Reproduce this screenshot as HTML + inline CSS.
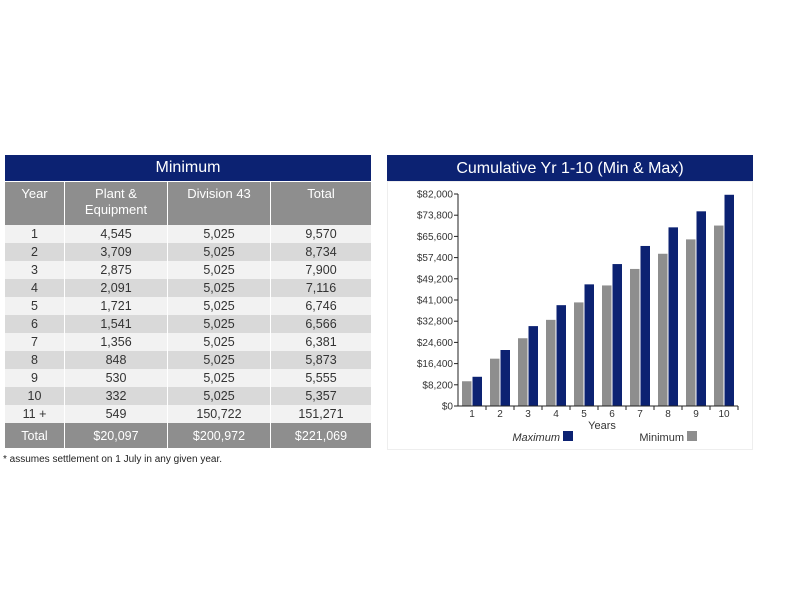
<!DOCTYPE html>
<html><head><meta charset="utf-8"><style>
body{margin:0;width:800px;height:600px;background:#fff;font-family:"Liberation Sans",sans-serif;position:relative;overflow:hidden}
#tbl{position:absolute;left:5px;top:155px;width:367px;border-collapse:collapse;font-size:12.5px;color:#333}
#tbl td,#tbl th{padding:0;text-align:center;border-right:1px solid #fff}
.ttl{background:#0c2272;color:#fff;font-size:16px;font-weight:normal;height:26px}
.hdr th{background:#8e8e8e;color:#fff;font-weight:normal;font-size:13px;height:39px;vertical-align:top;padding-top:4px!important;line-height:16px;border-top:1px solid #fff}
.r td{height:18px;line-height:16px}
.r:nth-child(odd) td{background:#f2f2f2}
.r:nth-child(even) td{background:#d9d9d9}
.tot td{background:#8e8e8e;color:#fff;height:25px;font-size:12.5px}
#note{position:absolute;left:3px;top:454px;font-size:10px;color:#222}
#ctitle{position:absolute;left:387px;top:155px;width:366px;height:26px;background:#0c2272;color:#fff;font-size:16px;text-align:center;line-height:27px}
#chart{position:absolute;left:387px;top:181px;width:366px;height:269px;border:1px solid #eee;box-sizing:border-box}
</style></head><body>
<table id="tbl">
<tr><th class="ttl" colspan="4">Minimum</th></tr>
<tr class="hdr"><th style="width:59px">Year</th><th style="width:102px">Plant &amp;<br>Equipment</th><th style="width:102px">Division 43</th><th>Total</th></tr>
<tr class="r"><td>1</td><td>4,545</td><td>5,025</td><td>9,570</td></tr>
<tr class="r"><td>2</td><td>3,709</td><td>5,025</td><td>8,734</td></tr>
<tr class="r"><td>3</td><td>2,875</td><td>5,025</td><td>7,900</td></tr>
<tr class="r"><td>4</td><td>2,091</td><td>5,025</td><td>7,116</td></tr>
<tr class="r"><td>5</td><td>1,721</td><td>5,025</td><td>6,746</td></tr>
<tr class="r"><td>6</td><td>1,541</td><td>5,025</td><td>6,566</td></tr>
<tr class="r"><td>7</td><td>1,356</td><td>5,025</td><td>6,381</td></tr>
<tr class="r"><td>8</td><td>848</td><td>5,025</td><td>5,873</td></tr>
<tr class="r"><td>9</td><td>530</td><td>5,025</td><td>5,555</td></tr>
<tr class="r"><td>10</td><td>332</td><td>5,025</td><td>5,357</td></tr>
<tr class="r"><td>11 +</td><td>549</td><td>150,722</td><td>151,271</td></tr>
<tr class="tot"><td>Total</td><td>$20,097</td><td>$200,972</td><td>$221,069</td></tr>
</table>
<div id="note">* assumes settlement on 1 July in any given year.</div>
<div id="ctitle">Cumulative Yr 1-10 (Min &amp; Max)</div>
<div id="chart"></div>
<svg id="svg" width="800" height="600" style="position:absolute;left:0;top:0"></svg>
<script>
const categories=["1","2","3","4","5","6","7","8","9","10"];
const minValues=[9570,18304,26204,33320,40066,46632,53013,58886,64441,69798];
const maxValues=[11300,21660,30900,39000,47050,54900,61900,69100,75300,81700];
const yTicks=[0,8200,16400,24600,32800,41000,49200,57400,65600,73800,82000];
const yTickLabels=["$0","$8,200","$16,400","$24,600","$32,800","$41,000","$49,200","$57,400","$65,600","$73,800","$82,000"];
const svg=document.getElementById('svg');const NS='http://www.w3.org/2000/svg';
const x0=458,x1=738,y0=406,y1=194,yMax=82000;
const bw=(x1-x0)/categories.length;
function y(v){return y0-(v/yMax)*(y0-y1);}
function xc(i){return x0+i*bw;}
function mk(t,a,txt){const e=document.createElementNS(NS,t);for(const k in a)e.setAttribute(k,a[k]);if(txt!==undefined)e.textContent=txt;svg.appendChild(e);return e;}
categories.forEach((c,i)=>{
 let e=mk('rect',{x:xc(i)+4,y:y(minValues[i]),width:9.5,height:y0-y(minValues[i]),fill:'#8e8e8e'});
 
 
 e=mk('rect',{x:xc(i)+14.5,y:y(maxValues[i]),width:9.5,height:y0-y(maxValues[i]),fill:'#0c2272'});
 
 
 e=mk('text',{x:xc(i)+bw/2,y:y0+11,'font-size':10,'text-anchor':'middle',fill:'#333'},c);
 
 
 mk('line',{x1:xc(i+1),x2:xc(i+1),y1:y0,y2:y0+4,stroke:'#222'});
});
yTicks.forEach((t,i)=>{
 mk('line',{x1:x0-4,x2:x0,y1:y(t),y2:y(t),stroke:'#222'});
 const e=mk('text',{x:x0-5,y:y(t)+3.5,'font-size':10,'text-anchor':'end',fill:'#333'},yTickLabels[i]);
 
 
});
mk('line',{x1:x0,x2:x0,y1:y1,y2:y0,stroke:'#222'});
mk('line',{x1:x0,x2:x1,y1:y0,y2:y0,stroke:'#222'});
let e=mk('text',{x:602,y:429,'font-size':11,'text-anchor':'middle',fill:'#333'},'Years');


e=mk('text',{x:560,y:441,'font-size':11,'text-anchor':'end',fill:'#333','font-style':'italic'},'Maximum');


mk('rect',{x:563,y:431,width:10,height:10,fill:'#0c2272'});
e=mk('text',{x:684,y:441,'font-size':11,'text-anchor':'end',fill:'#333'},'Minimum');


mk('rect',{x:687,y:431,width:10,height:10,fill:'#8e8e8e'});
</script>
</body></html>
